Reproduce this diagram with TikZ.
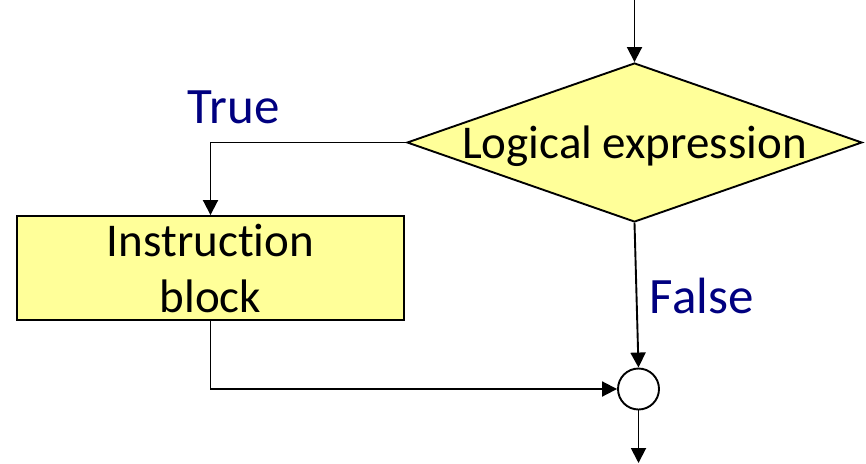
\documentclass[tikz,border=0pt]{standalone}
\usepackage{fontspec}
\setmainfont[Ligatures={NoCommon}]{Carlito}
\usetikzlibrary{shapes.geometric,arrows.meta}
\definecolor{boxfill}{HTML}{FFFF99}
\definecolor{labelblue}{HTML}{000080}
\begin{document}
\begin{tikzpicture}[x=1pt,y=-1pt,
  line width=1.9pt,
  flow/.style={-{Triangle[length=15pt,width=15pt]}},
  decision/.style={diamond,draw,fill=boxfill,inner sep=0pt,
    minimum width=455pt,minimum height=159pt,
    font=\fontsize{47}{56}\selectfont},
  block/.style={rectangle,draw,fill=boxfill,minimum width=387pt,
    minimum height=104pt,align=center,inner sep=0pt,
    font=\fontsize{47}{56}\selectfont},
  joint/.style={circle,draw,fill=white,minimum size=41pt,inner sep=0pt},
  branch/.style={text=labelblue,font=\fontsize{51}{61}\selectfont,anchor=base west,inner sep=0pt}]
  \useasboundingbox (0,0) rectangle (866,463);

  % decision, action block and junction
  \node[decision] (cond) at (634.5,142.5)
    {\raisebox{-15.5pt}[0pt][0pt]{\makebox[0pt]{Logical expression}}};
  \node[block] (body) at (210.5,268) {Instruction\\block};
  \node[joint] (join) at (638.5,389) {};

  % free ends of the incoming and outgoing flow
  \coordinate (entry) at (634.5,0);
  \coordinate (exit) at (638.5,463);

  % connectors
  \draw[flow] (entry) -- (cond.north);
  \draw[flow] (cond.west) -| (body.north);
  \draw[flow] (cond.south) -- (join.north);
  \draw[flow] (body.south) |- (join.west);
  \draw[flow] (join.south) -- (exit);

  % branch labels
  \node[branch] (ltrue) at (187,123) {True};
  \node[branch] (lfalse) at (649,313) {False};
\end{tikzpicture}
\end{document}
